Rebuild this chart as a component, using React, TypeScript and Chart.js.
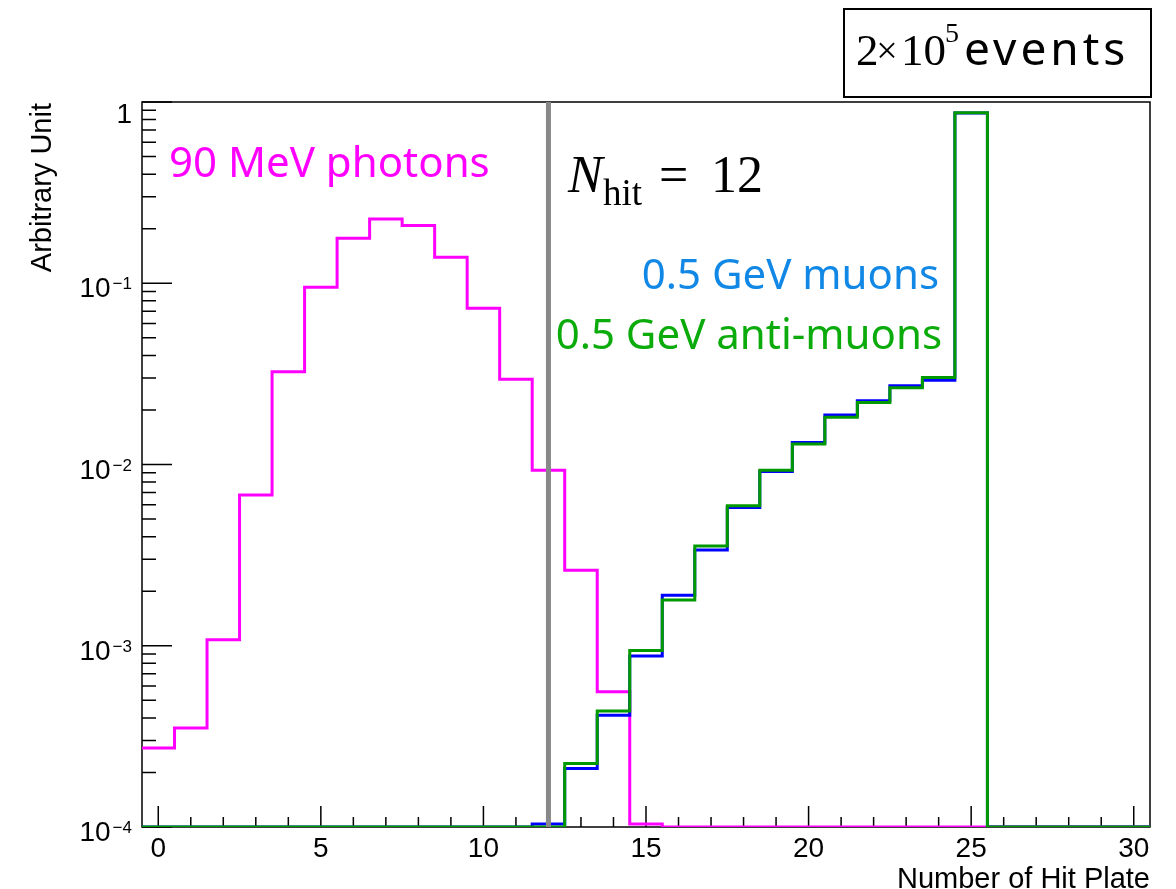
import React, { useEffect, useRef } from "react";
import { Chart, registerables } from "chart.js";

Chart.register(...registerables);

// ---------- data ----------
const BIN_CENTERS = [0, 1, 2, 3, 4, 5, 6, 7, 8, 9, 10, 11, 12, 13, 14, 15, 16, 17, 18, 19, 20, 21, 22, 23, 24, 25, 26, 27, 28, 29, 30];

const PHOTONS_90MEV = [
  2.73e-4, 3.52e-4, 1.08e-3, 6.78e-3, 0.0325, 0.0949, 0.177, 0.226, 0.208, 0.139,
  0.0727, 0.0295, 0.0093, 0.00261, 0.000557, 0.000104, 0, 0, 0, 0,
  0, 0, 0, 0, 0, 0, 0, 0, 0, 0, 0,
];

const MUONS_05GEV = [
  0, 0, 0, 0, 0, 0, 0, 0, 0, 0,
  0, 0, 1.04e-4, 2.1e-4, 4.14e-4, 8.77e-4, 1.9e-3, 3.37e-3, 5.8e-3, 9.16e-3,
  0.01324, 0.01874, 0.0225, 0.0272, 0.0292, 0.870, 0, 0, 0, 0, 0,
];

const ANTIMUONS_05GEV = [
  0, 0, 0, 0, 0, 0, 0, 0, 0, 0,
  0, 0, 0, 2.24e-4, 4.37e-4, 9.4e-4, 1.79e-3, 3.55e-3, 5.92e-3, 9.31e-3,
  0.01296, 0.0182, 0.022, 0.0265, 0.0302, 0.873, 0, 0, 0, 0, 0,
];

const CUT_NHIT = 12;

const X_MIN = -0.5;
const X_MAX = 30.5;
const Y_MIN = 1e-4;
const Y_MAX = 1;

const X_TICK_VALUES = [0, 5, 10, 15, 20, 25, 30];
const X_TICK_LABELS = ["0", "5", "10", "15", "20", "25", "30"];
const Y_TICK_VALUES = [1, 1e-1, 1e-2, 1e-3, 1e-4];
const Y_TICK_BASES = ["1", "10", "10", "10", "10"];
const Y_TICK_EXPS = ["", "\u22121", "\u22122", "\u22123", "\u22124"];

const X_TITLE = "Number of Hit Plate";
const Y_TITLE = "Arbitrary Unit";

// ---------- helpers ----------
function toSteps(vals: number[]) {
  const pts = BIN_CENTERS.map((c, i) => ({ x: c - 0.5, y: Math.max(vals[i], Y_MIN) }));
  const last = BIN_CENTERS.length - 1;
  pts.push({ x: BIN_CENTERS[last] + 0.5, y: Math.max(vals[last], Y_MIN) });
  return pts;
}

const SANS = '"Liberation Sans", Arial, sans-serif';
const SERIF = '"Liberation Serif", "Times New Roman", serif';
const LABEL_SANS = '"Noto Sans", sans-serif';

const rootDecor = {
  id: "rootDecor",
  beforeDatasetsDraw(chart: any) {
    const { ctx, chartArea: a, scales } = chart;
    const x = scales.x;
    const y = scales.y;
    ctx.save();
    ctx.strokeStyle = "#000";
    ctx.lineWidth = 1.5;
    ctx.strokeRect(a.left, a.top, a.right - a.left, a.bottom - a.top);
    ctx.beginPath();
    for (let v = Math.ceil(X_MIN); v <= X_MAX; v++) {
      const px = x.getPixelForValue(v);
      const len = v % 5 === 0 ? 21 : 10;
      ctx.moveTo(px, a.bottom);
      ctx.lineTo(px, a.bottom - len);
    }
    for (let d = -4; d <= 0; d++) {
      for (let m = 1; m <= 9; m++) {
        const v = m * Math.pow(10, d);
        if (v > Y_MAX * 1.0001) break;
        const py = y.getPixelForValue(v);
        const len = m === 1 ? 30 : 14;
        ctx.moveTo(a.left, py);
        ctx.lineTo(a.left + len, py);
      }
    }
    ctx.stroke();
    ctx.restore();
  },
  afterDraw(chart: any) {
    const { ctx, chartArea: a, scales } = chart;
    const x = scales.x;
    const y = scales.y;
    ctx.save();
    ctx.fillStyle = "#000";

    // x tick labels
    ctx.font = `28px ${SANS}`;
    ctx.textAlign = "center";
    ctx.textBaseline = "alphabetic";
    X_TICK_VALUES.forEach((v, i) => {
      ctx.fillText(X_TICK_LABELS[i], x.getPixelForValue(v), 857);
    });

    // y tick labels
    const rightEdge = 132;
    Y_TICK_VALUES.forEach((v, i) => {
      const py = y.getPixelForValue(v);
      ctx.textAlign = "right";
      if (!Y_TICK_EXPS[i]) {
        ctx.font = `28px ${SANS}`;
        ctx.fillText(Y_TICK_BASES[i], rightEdge, py + 21);
      } else {
        ctx.font = `17px ${SANS}`;
        const w = ctx.measureText(Y_TICK_EXPS[i]).width;
        ctx.fillText(Y_TICK_EXPS[i], rightEdge, py + 6);
        ctx.font = `28px ${SANS}`;
        ctx.fillText(Y_TICK_BASES[i], rightEdge - w - 2, py + 14);
      }
    });

    // axis titles
    ctx.font = `29px ${SANS}`;
    ctx.textAlign = "right";
    ctx.fillText(X_TITLE, a.right, 888);
    ctx.save();
    ctx.translate(51, a.top + 1);
    ctx.rotate(-Math.PI / 2);
    ctx.textAlign = "right";
    ctx.fillText(Y_TITLE, 0, 0);
    ctx.restore();

    // annotations
    ctx.textAlign = "left";
    ctx.font = `42px ${LABEL_SANS}`;
    ctx.fillStyle = "#ff00ff";
    ctx.fillText("90 MeV photons", 169, 177);

    ctx.textAlign = "right";
    ctx.fillStyle = "#1188e5";
    ctx.fillText("0.5 GeV muons", 939, 289);
    ctx.fillStyle = "#0aab0a";
    ctx.fillText("0.5 GeV anti-muons", 942, 349);

    // N_hit = 12
    ctx.fillStyle = "#000";
    ctx.textAlign = "left";
    ctx.font = `italic 52px ${SERIF}`;
    ctx.fillText("N", 568, 192);
    ctx.font = `37px ${SERIF}`;
    ctx.fillText("hit", 603, 205);
    ctx.font = `52px ${SERIF}`;
    ctx.fillText("=", 659, 192);
    ctx.fillText("12", 711, 192);

    // events box
    ctx.lineWidth = 2;
    ctx.strokeStyle = "#000";
    ctx.strokeRect(844, 9, 307, 88);
    ctx.font = `45px ${SERIF}`;
    ctx.fillText("2", 856, 65);
    ctx.textAlign = "center";
    ctx.font = `38px ${SERIF}`;
    ctx.fillText("\u00d7", 887, 63);
    ctx.textAlign = "left";
    ctx.font = `45px ${SERIF}`;
    ctx.fillText("10", 901, 65);
    ctx.font = `28px ${SERIF}`;
    ctx.fillText("5", 945, 42);
    ctx.font = `46px ${LABEL_SANS}`;
    (ctx as any).letterSpacing = "4px";
    ctx.fillText("events", 964, 65);
    (ctx as any).letterSpacing = "0px";

    ctx.restore();
  },
};

export default function App() {
  const ref = useRef<HTMLCanvasElement | null>(null);
  useEffect(() => {
    document.body.style.margin = "0";
    const canvas = ref.current;
    if (!canvas) return;
    const common = {
      stepped: true as const,
      pointRadius: 0,
      fill: false,
      borderWidth: 3,
      borderJoinStyle: "miter" as const,
      borderCapStyle: "butt" as const,
      tension: 0,
    };
    const chart = new Chart(canvas, {
      type: "line",
      data: {
        datasets: [
          {
            label: "cut",
            data: [
              { x: CUT_NHIT, y: Y_MIN },
              { x: CUT_NHIT, y: Y_MAX },
            ],
            borderColor: "#888888",
            borderWidth: 5,
            pointRadius: 0,
            borderCapStyle: "butt",
          },
          { label: "0.5 GeV anti-muons", data: toSteps(ANTIMUONS_05GEV), borderColor: "#009900", ...common },
          { label: "0.5 GeV muons", data: toSteps(MUONS_05GEV), borderColor: "#0000ff", ...common },
          { label: "90 MeV photons", data: toSteps(PHOTONS_90MEV), borderColor: "#ff00ff", ...common },
        ],
      },
      options: {
        animation: false,
        responsive: false,
        events: [],
        layout: { padding: { left: 142, top: 102, right: 26, bottom: 62 } },
        plugins: { legend: { display: false }, tooltip: { enabled: false } },
        scales: {
          x: { type: "linear", min: X_MIN, max: X_MAX, display: false },
          y: { type: "logarithmic", min: Y_MIN, max: Y_MAX, display: false },
        },
      },
      plugins: [rootDecor],
    });
    return () => chart.destroy();
  }, []);
  return (
    <canvas
      ref={ref}
      width={1176}
      height={889}
      style={{ display: "block", width: 1176, height: 889, background: "#fff" }}
    />
  );
}
